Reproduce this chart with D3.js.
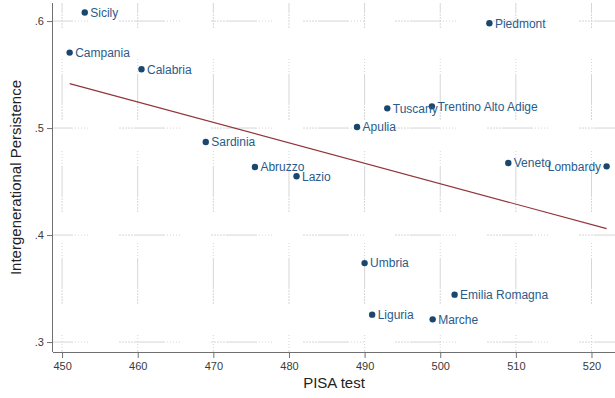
<!DOCTYPE html>
<html>
<head>
<meta charset="utf-8">
<script src="https://cdn.jsdelivr.net/npm/d3@7"></script>
<style>
  body { margin: 0; background: #fff; }
  svg { display: block; font-family: "Liberation Sans", Arial, sans-serif; }
</style>
</head>
<body>
<div id="chart"></div>
<script>
// regions, PISA score and intergenerational persistence
const regions = ['Sicily', 'Campania', 'Calabria', 'Sardinia', 'Abruzzo', 'Lazio',
  'Piedmont', 'Tuscany', 'Trentino Alto Adige', 'Apulia', 'Veneto', 'Lombardy',
  'Umbria', 'Emilia Romagna', 'Liguria', 'Marche'];
const pisa = [453.0, 451.0, 460.5, 469.0, 475.5, 481.0,
  506.5, 493.0, 498.9, 489.0, 509.0, 522.0,
  490.0, 501.9, 491.0, 499.0];
const persistence = [.608, .5705, .555, .487, .4636, .455,
  .598, .5184, .5203, .501, .4673, .4642,
  .3738, .3443, .3256, .3212];
// label on the left for these (Stata clock position 9)
const leftLabels = ['Lombardy'];

// fitted values line, endpoints
const fitX = [451.0, 522.0];
const fitY = [.5415, .406];

const xTicks = [450, 460, 470, 480, 490, 500, 510, 520];
const yTicks = [.3, .4, .5, .6];

const W = 615, H = 398;
const margin = {top: 3, right: 0, bottom: 46, left: 53};
const width = W - margin.left - margin.right;
const height = H - margin.top - margin.bottom;

const svg = d3.select('#chart').append('svg')
  .attr('width', W).attr('height', H);
const g = svg.append('g')
  .attr('transform', 'translate(' + margin.left + ',' + margin.top + ')');

const x = d3.scaleLinear().domain([448.8, 448.8 + width / 7.563]).range([0, width]);
const y = d3.scaleLinear().domain([.2907, .2907 + height / 1070]).range([height, 0]);

// grid (Stata style: short dashes made of fine dots)
const gridDash = '2,1,2,1,2,1,2,1,2,1,31';
g.append('g').selectAll('line.vg')
  .data(xTicks).enter().append('line')
  .attr('x1', d => x(d)).attr('x2', d => x(d))
  .attr('y1', height).attr('y2', 0)
  .attr('stroke', '#d6d6d6').attr('stroke-width', 1)
  .attr('stroke-dasharray', gridDash).attr('stroke-dashoffset', 44);
g.append('g').selectAll('line.hg')
  .data(yTicks).enter().append('line')
  .attr('x1', 0).attr('x2', width)
  .attr('y1', d => y(d)).attr('y2', d => y(d))
  .attr('stroke', '#d6d6d6').attr('stroke-width', 1)
  .attr('stroke-dasharray', gridDash).attr('stroke-dashoffset', 26);

// axes
const xAxis = d3.axisBottom(x).tickValues(xTicks).tickSize(6).tickPadding(4).tickFormat(d3.format('d'));
const yAxis = d3.axisLeft(y).tickValues(yTicks).tickSize(6).tickPadding(3)
  .tickFormat(d => d3.format('.1f')(d).replace(/^0/, ''));

const xg = g.append('g').attr('transform', 'translate(0,' + height + ')').call(xAxis);
const yg = g.append('g').call(yAxis);
[xg, yg].forEach(a => {
  a.select('.domain').attr('stroke', '#707070');
  a.selectAll('.tick line').attr('stroke', '#707070');
  a.selectAll('.tick text').attr('fill', '#3a3a3a').style('font-size', '11px')
    .style('font-family', '"Liberation Sans", Arial, sans-serif');
});
xg.select('.domain').attr('d', 'M0,0.5H' + width);
yg.select('.domain').attr('d', 'M-0.5,0V' + height);

// fitted line
g.append('path')
  .datum(fitX.map((d, i) => [d, fitY[i]]))
  .attr('fill', 'none').attr('stroke', '#90353b').attr('stroke-width', 1.2)
  .attr('d', d3.line().x(d => x(d[0])).y(d => y(d[1])));

// points and labels
const data = regions.map((r, i) => ({name: r, px: pisa[i], py: persistence[i]}));
g.append('g').selectAll('circle')
  .data(data).enter().append('circle')
  .attr('cx', d => x(d.px)).attr('cy', d => y(d.py))
  .attr('r', 3.2).attr('fill', '#1a476f');

g.append('g').selectAll('text')
  .data(data).enter().append('text')
  .attr('x', d => x(d.px) + (leftLabels.includes(d.name) ? -5.5 : 5.5))
  .attr('y', d => y(d.py))
  .attr('dy', '0.36em')
  .attr('text-anchor', d => leftLabels.includes(d.name) ? 'end' : 'start')
  .attr('fill', '#2b5b8a')
  .style('font-size', '12px')
  .text(d => d.name);

// axis titles
svg.append('text')
  .attr('x', margin.left + width / 2).attr('y', 388)
  .attr('text-anchor', 'middle').attr('fill', '#222')
  .style('font-size', '15px').text('PISA test');
svg.append('text')
  .attr('transform', 'translate(21,' + (margin.top + height / 2) + ') rotate(-90)')
  .attr('text-anchor', 'middle').attr('fill', '#222')
  .style('font-size', '15px').text('Intergenerational Persistence');
</script>
</body>
</html>
